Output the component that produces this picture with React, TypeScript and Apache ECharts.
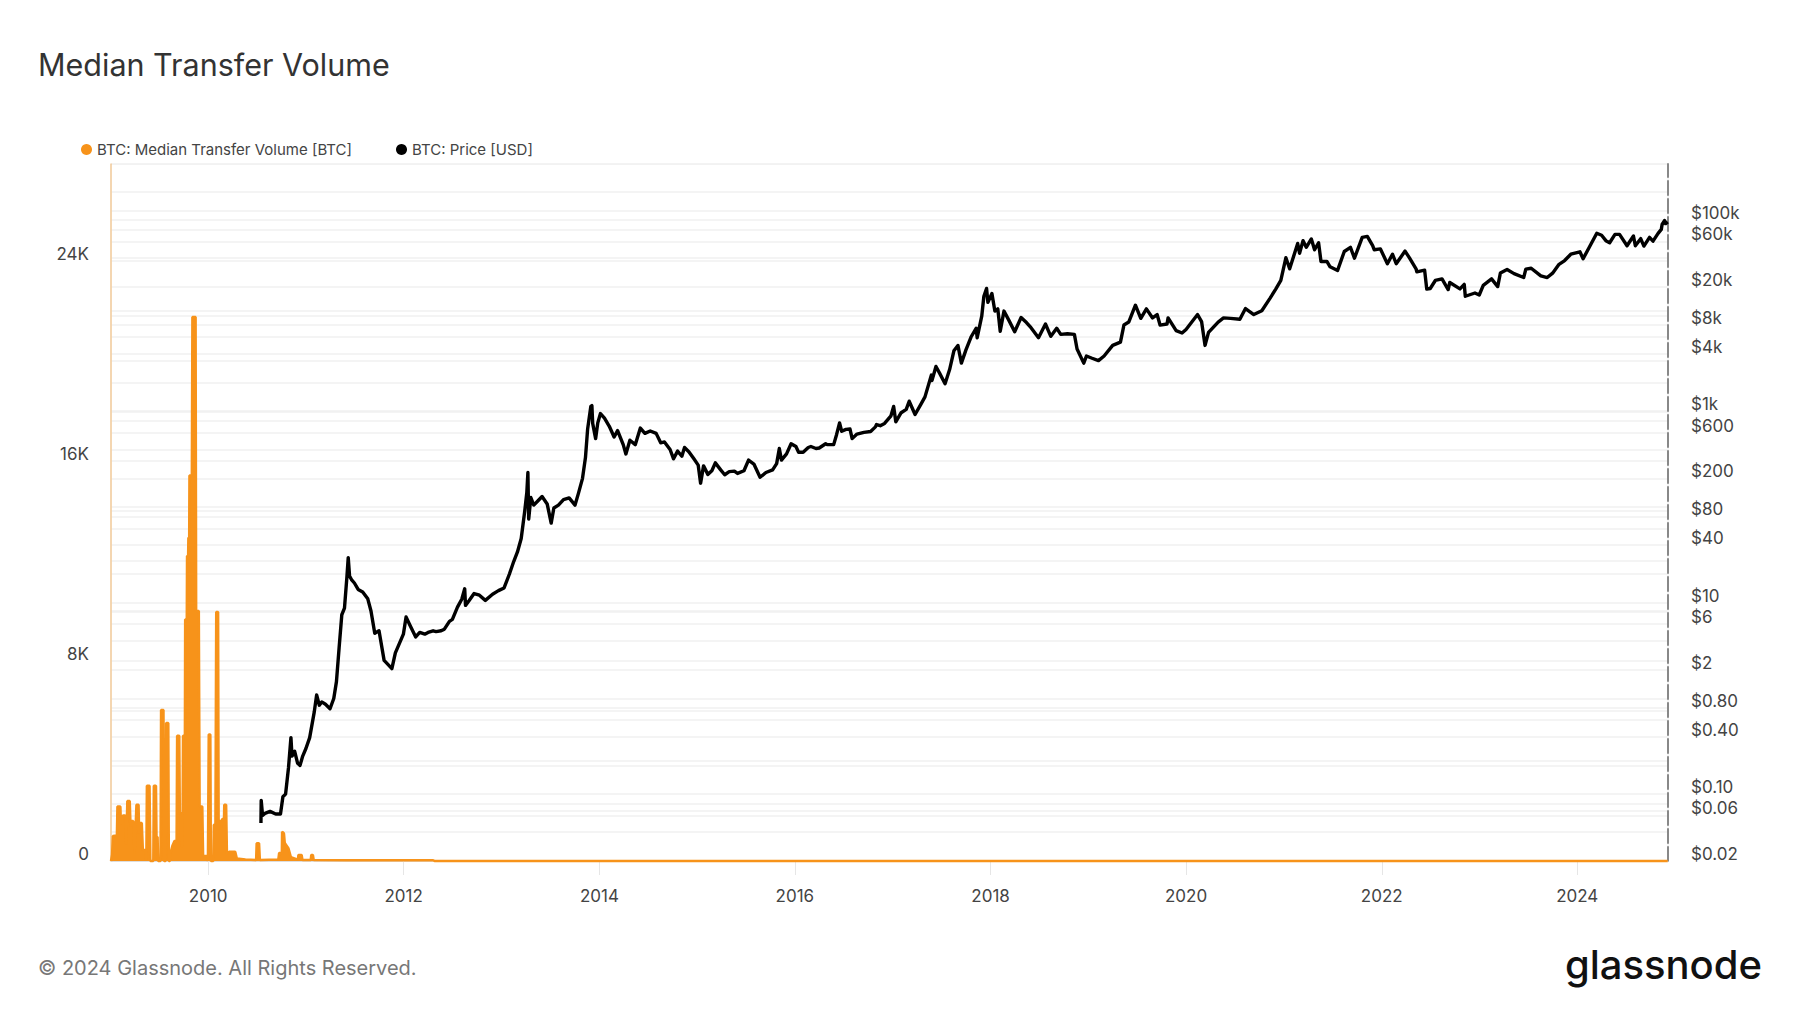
import React, { useEffect, useRef } from 'react';
import * as echarts from 'echarts';

const volumeData: [string, number][] = [
  ['2009-01-03', 0], ['2009-01-07', 250], ['2009-01-10', 1000], ['2009-01-25', 1016],
  ['2009-01-27', 2180], ['2009-02-07', 2180], ['2009-02-09', 1500], ['2009-02-14', 1500],
  ['2009-02-16', 1816], ['2009-02-25', 1816], ['2009-03-01', 650], ['2009-03-05', 2400],
  ['2009-03-14', 2400], ['2009-03-17', 1380], ['2009-03-20', 1600], ['2009-03-27', 1600],
  ['2009-04-01', 300], ['2009-04-08', 2250], ['2009-04-16', 2250], ['2009-04-18', 1100],
  ['2009-04-22', 1520], ['2009-04-28', 1520], ['2009-05-02', 440], ['2009-05-11', 440],
  ['2009-05-15', 0], ['2009-05-17', 3008], ['2009-05-27', 3008], ['2009-05-30', 0],
  ['2009-06-10', 0], ['2009-06-12', 3008], ['2009-06-20', 3008], ['2009-06-22', 960],
  ['2009-06-26', 960], ['2009-06-28', 0], ['2009-07-07', 0], ['2009-07-09', 6040],
  ['2009-07-18', 6040], ['2009-07-20', 0], ['2009-07-26', 0], ['2009-07-28', 5520],
  ['2009-08-05', 5520], ['2009-08-07', 0], ['2009-08-11', 0], ['2009-08-14', 350],
  ['2009-08-20', 600], ['2009-08-28', 800], ['2009-09-05', 800], ['2009-09-07', 5012],
  ['2009-09-15', 5012], ['2009-09-17', 1960], ['2009-09-20', 1960], ['2009-09-23', 600],
  ['2009-09-27', 600], ['2009-09-29', 5012], ['2009-10-06', 5012], ['2009-10-07', 9660],
  ['2009-10-13', 9660], ['2009-10-14', 12200], ['2009-10-18', 12200], ['2009-10-19', 12930],
  ['2009-10-22', 12930], ['2009-10-23', 15424], ['2009-11-01', 15424], ['2009-11-03', 21760],
  ['2009-11-15', 21760], ['2009-11-17', 10000], ['2009-11-27', 10000], ['2009-11-30', 2180],
  ['2009-12-10', 2180], ['2009-12-13', 200], ['2009-12-28', 200], ['2009-12-31', 0],
  ['2010-01-02', 0], ['2010-01-03', 5056], ['2010-01-09', 5056], ['2010-01-11', 0],
  ['2010-01-20', 0], ['2010-01-22', 1450], ['2010-01-28', 1450], ['2010-01-31', 9960],
  ['2010-02-07', 9960], ['2010-02-09', 1600], ['2010-02-18', 1600], ['2010-02-20', 1300],
  ['2010-02-22', 1680], ['2010-03-01', 1680], ['2010-03-02', 2250], ['2010-03-09', 2250],
  ['2010-03-12', 300], ['2010-03-21', 373], ['2010-04-12', 373], ['2010-04-18', 100],
  ['2010-05-20', 60], ['2010-06-29', 40], ['2010-07-01', 707], ['2010-07-10', 707],
  ['2010-07-13', 40], ['2010-09-20', 60], ['2010-09-23', 320], ['2010-10-03', 320],
  ['2010-10-04', 1173], ['2010-10-11', 1100], ['2010-10-14', 720], ['2010-10-28', 500],
  ['2010-11-06', 150], ['2010-12-02', 50], ['2010-12-04', 240], ['2010-12-16', 240],
  ['2010-12-19', 40], ['2011-01-19', 40], ['2011-01-21', 240], ['2011-01-27', 240],
  ['2011-01-30', 40], ['2011-06-01', 35], ['2012-04-20', 30], ['2012-04-25', 3],
  ['2015-01-01', 2], ['2020-01-01', 1], ['2024-12-04', 1],
];

const priceData: [string, number][] = [
  ['2010-07-17', 0.05], ['2010-07-18', 0.086], ['2010-07-23', 0.06], ['2010-08-01', 0.063],
  ['2010-08-20', 0.066], ['2010-09-10', 0.062], ['2010-09-28', 0.062], ['2010-10-07', 0.094],
  ['2010-10-17', 0.10], ['2010-10-28', 0.19], ['2010-11-06', 0.39], ['2010-11-10', 0.25],
  ['2010-11-20', 0.28], ['2010-12-01', 0.21], ['2010-12-10', 0.20], ['2010-12-20', 0.25],
  ['2011-01-01', 0.30], ['2011-01-15', 0.39], ['2011-02-01', 0.72], ['2011-02-10', 1.09],
  ['2011-02-20', 0.85], ['2011-03-01', 0.92], ['2011-03-15', 0.87], ['2011-04-01', 0.78],
  ['2011-04-15', 1.00], ['2011-04-25', 1.50], ['2011-05-05', 3.40], ['2011-05-15', 7.50],
  ['2011-05-25', 8.80], ['2011-06-03', 18.5], ['2011-06-08', 29.6], ['2011-06-13', 19.0],
  ['2011-06-20', 17.5], ['2011-07-01', 16.1], ['2011-07-15', 13.8], ['2011-08-01', 13.0],
  ['2011-08-20', 11.0], ['2011-09-01', 8.2], ['2011-09-15', 4.8], ['2011-10-01', 5.1],
  ['2011-10-20', 2.5], ['2011-11-18', 2.05], ['2011-12-01', 3.0], ['2011-12-31', 4.7],
  ['2012-01-10', 7.1], ['2012-01-25', 5.8], ['2012-02-15', 4.4], ['2012-03-01', 4.9],
  ['2012-03-20', 4.7], ['2012-04-01', 4.9], ['2012-04-20', 5.1], ['2012-05-01', 5.0],
  ['2012-05-20', 5.1], ['2012-06-01', 5.3], ['2012-06-20', 6.4], ['2012-07-01', 6.7],
  ['2012-07-20', 9.0], ['2012-08-05', 10.9], ['2012-08-16', 14.0], ['2012-08-19', 9.4],
  ['2012-09-01', 10.5], ['2012-09-20', 12.5], ['2012-10-10', 12.0], ['2012-11-01', 10.6],
  ['2012-11-28', 12.3], ['2012-12-20', 13.4], ['2013-01-10', 14.3], ['2013-01-30', 20.0],
  ['2013-02-15', 27], ['2013-03-01', 34], ['2013-03-15', 47], ['2013-03-28', 90],
  ['2013-04-05', 142], ['2013-04-09', 230], ['2013-04-12', 75], ['2013-04-20', 126],
  ['2013-05-01', 105], ['2013-05-15', 115], ['2013-06-01', 129], ['2013-06-20', 108],
  ['2013-07-05', 68], ['2013-07-15', 98], ['2013-08-01', 105], ['2013-08-20', 120],
  ['2013-09-10', 125], ['2013-10-02', 105], ['2013-10-15', 140], ['2013-10-30', 200],
  ['2013-11-10', 330], ['2013-11-18', 650], ['2013-11-30', 1130], ['2013-12-04', 1150],
  ['2013-12-07', 750], ['2013-12-18', 520], ['2013-12-26', 760], ['2014-01-05', 950],
  ['2014-01-20', 850], ['2014-02-07', 700], ['2014-02-25', 540], ['2014-03-10', 630],
  ['2014-03-31', 450], ['2014-04-10', 360], ['2014-04-25', 500], ['2014-05-15', 450],
  ['2014-06-03', 670], ['2014-06-20', 590], ['2014-07-10', 625], ['2014-08-01', 590],
  ['2014-08-18', 470], ['2014-09-01', 480], ['2014-09-22', 400], ['2014-10-05', 320],
  ['2014-10-20', 385], ['2014-11-05', 340], ['2014-11-15', 420], ['2014-12-01', 380],
  ['2014-12-20', 320], ['2015-01-05', 275], ['2015-01-14', 178], ['2015-01-25', 270],
  ['2015-02-10', 220], ['2015-02-25', 240], ['2015-03-10', 290], ['2015-03-30', 245],
  ['2015-04-14', 218], ['2015-05-01', 235], ['2015-05-20', 238], ['2015-06-01', 225],
  ['2015-06-25', 240], ['2015-07-12', 310], ['2015-08-01', 282], ['2015-08-24', 205],
  ['2015-09-15', 230], ['2015-10-10', 245], ['2015-10-25', 285], ['2015-11-04', 410],
  ['2015-11-12', 310], ['2015-12-01', 360], ['2015-12-18', 460], ['2016-01-05', 430],
  ['2016-01-15', 375], ['2016-02-01', 375], ['2016-02-20', 420], ['2016-03-01', 430],
  ['2016-03-20', 410], ['2016-04-01', 415], ['2016-04-25', 460], ['2016-05-01', 450],
  ['2016-05-25', 450], ['2016-06-05', 575], ['2016-06-16', 760], ['2016-06-24', 620],
  ['2016-07-10', 650], ['2016-07-25', 655], ['2016-08-02', 520], ['2016-08-20', 580],
  ['2016-09-15', 605], ['2016-10-10', 617], ['2016-10-28', 690], ['2016-11-01', 730],
  ['2016-11-15', 710], ['2016-12-01', 750], ['2016-12-25', 900], ['2017-01-04', 1130],
  ['2017-01-12', 780], ['2017-02-01', 970], ['2017-02-20', 1050], ['2017-03-03', 1280],
  ['2017-03-25', 930], ['2017-04-15', 1180], ['2017-05-01', 1420], ['2017-05-25', 2400],
  ['2017-05-27', 2100], ['2017-06-11', 2950], ['2017-06-25', 2500], ['2017-07-15', 1950],
  ['2017-08-01', 2740], ['2017-08-17', 4300], ['2017-09-01', 4900], ['2017-09-14', 3200],
  ['2017-10-01', 4400], ['2017-10-20', 6000], ['2017-11-08', 7400], ['2017-11-12', 5900],
  ['2017-11-29', 9900], ['2017-12-07', 16000], ['2017-12-17', 19300], ['2017-12-22', 13800],
  ['2018-01-06', 17100], ['2018-01-17', 11200], ['2018-01-28', 11800], ['2018-02-06', 6900],
  ['2018-02-20', 11200], ['2018-03-10', 9000], ['2018-04-01', 6800], ['2018-04-25', 9600],
  ['2018-05-15', 8500], ['2018-06-01', 7500], ['2018-06-29', 5900], ['2018-07-25', 8200],
  ['2018-08-14', 6100], ['2018-09-05', 7400], ['2018-09-20', 6400], ['2018-10-15', 6500],
  ['2018-11-10', 6400], ['2018-11-20', 4500], ['2018-12-15', 3200], ['2018-12-25', 3800],
  ['2019-01-15', 3600], ['2019-02-08', 3400], ['2019-03-01', 3800], ['2019-04-02', 4900],
  ['2019-05-01', 5300], ['2019-05-14', 8000], ['2019-06-01', 8600], ['2019-06-26', 12900],
  ['2019-07-16', 9400], ['2019-08-06', 11800], ['2019-08-29', 9500], ['2019-09-15', 10300],
  ['2019-09-26', 8000], ['2019-10-22', 8200], ['2019-10-26', 9500], ['2019-11-25', 7000],
  ['2019-12-17', 6600], ['2020-01-01', 7200], ['2020-02-13', 10300], ['2020-02-28', 8700],
  ['2020-03-12', 4900], ['2020-03-25', 6700], ['2020-04-30', 8600], ['2020-05-20', 9500],
  ['2020-06-15', 9400], ['2020-07-20', 9200], ['2020-08-10', 11900], ['2020-09-10', 10300],
  ['2020-10-10', 11300], ['2020-11-10', 15300], ['2020-12-01', 19000], ['2020-12-20', 23500],
  ['2021-01-08', 40500], ['2021-01-22', 31000], ['2021-02-21', 57000], ['2021-02-28', 45000],
  ['2021-03-13', 61000], ['2021-03-25', 52000], ['2021-04-13', 63500], ['2021-04-25', 49000],
  ['2021-05-10', 58000], ['2021-05-19', 37000], ['2021-06-10', 37000], ['2021-06-22', 32500],
  ['2021-07-20', 29800], ['2021-08-14', 47000], ['2021-09-06', 52000], ['2021-09-21', 40000],
  ['2021-10-20', 66000], ['2021-11-08', 67500], ['2021-11-28', 54000], ['2021-12-04', 49000],
  ['2021-12-27', 50000], ['2022-01-22', 35000], ['2022-02-10', 44000], ['2022-02-24', 35000],
  ['2022-03-29', 47500], ['2022-04-15', 40000], ['2022-05-09', 31000], ['2022-05-12', 28800],
  ['2022-06-10', 30000], ['2022-06-18', 19000], ['2022-07-01', 19300], ['2022-07-20', 23400],
  ['2022-08-14', 24300], ['2022-09-06', 18800], ['2022-09-12', 22300], ['2022-10-20', 19100],
  ['2022-11-05', 21300], ['2022-11-09', 16000], ['2022-12-15', 17300], ['2022-12-31', 16500],
  ['2023-01-15', 20800], ['2023-02-15', 24300], ['2023-03-10', 20200], ['2023-03-20', 28000],
  ['2023-04-14', 30500], ['2023-05-10', 27600], ['2023-06-15', 25100], ['2023-06-23', 30700],
  ['2023-07-13', 31400], ['2023-08-18', 26100], ['2023-09-11', 25100], ['2023-10-01', 27900],
  ['2023-10-25', 34500], ['2023-11-15', 37800], ['2023-12-08', 44000], ['2024-01-11', 46600],
  ['2024-01-23', 39500], ['2024-02-15', 52000], ['2024-03-14', 73000], ['2024-04-01', 69500],
  ['2024-04-17', 61000], ['2024-05-01', 58000], ['2024-05-21', 71000], ['2024-06-07', 71000],
  ['2024-07-05', 54000], ['2024-07-29', 68200], ['2024-08-05', 54000], ['2024-08-25', 64000],
  ['2024-09-06', 53500], ['2024-09-27', 66000], ['2024-10-10', 60300], ['2024-10-29', 72700],
  ['2024-11-10', 80000], ['2024-11-13', 90000], ['2024-11-22', 99000], ['2024-11-26', 92000],
  ['2024-12-04', 96000],
];

const yearTicks = [2010, 2012, 2014, 2016, 2018, 2020, 2022, 2024];
const volumeLabelValues = [0, 8000, 16000, 24000];
const volumeGridValues = [0, 2000, 4000, 6000, 8000, 10000, 12000, 14000, 16000, 18000, 20000, 22000, 24000, 26000];
const priceLabelValues = [0.02, 0.06, 0.1, 0.4, 0.8, 2, 6, 10, 40, 80, 200, 600, 1000, 4000, 8000, 20000, 60000, 100000];
const priceGridValues = [
  0.02, 0.04, 0.06, 0.08, 0.1, 0.2, 0.4, 0.6, 0.8, 1, 2, 4, 6, 8, 10, 20, 40, 60, 80, 100,
  200, 400, 600, 800, 1000, 2000, 4000, 6000, 8000, 10000, 20000, 40000, 60000, 80000, 100000, 200000,
];
const xStart = '2009-01-03';
const xEnd = '2024-12-05';
const volumeMax = 27880;
const priceMin = 0.02;
const priceMax = 386000;

const ORANGE = '#f7931a';
const FONT = 'Inter, "Noto Sans", sans-serif';

function fmtPrice(p: number): string {
  if (p >= 1000) return '$' + Math.round(p / 1000) + 'k';
  if (p >= 1) return '$' + Math.round(p);
  return '$' + p.toFixed(2);
}

const ts = (d: string) => Date.parse(d + 'T00:00:00Z');

export default function App() {
  const ref = useRef<HTMLDivElement>(null);
  useEffect(() => {
    if (!ref.current) return;
    const chart = echarts.init(ref.current, undefined, { renderer: 'svg' });
    const lg = (v: number) => Math.log10(v);
    const yearTs = yearTicks.map((y) => Date.UTC(y, 0, 1));
    chart.setOption({
      animation: false,
      backgroundColor: '#ffffff',
      textStyle: { fontFamily: FONT },
      title: {
        text: 'Median Transfer Volume',
        left: 33,
        top: 44,
        textStyle: { fontSize: 30.5, fontWeight: 400, color: '#333333', fontFamily: FONT },
      },
      legend: {
        left: 76,
        top: 137,
        icon: 'circle',
        itemWidth: 11,
        itemHeight: 11,
        itemGap: 44,
        textStyle: { fontSize: 15, color: '#444444', fontFamily: FONT },
        data: ['BTC: Median Transfer Volume [BTC]', 'BTC: Price [USD]'],
      },
      grid: {
        left: 111,
        right: 132,
        top: 164,
        bottom: 152,
        show: true,
        borderColor: '#e6e6e6',
        borderWidth: 1,
      },
      xAxis: {
        type: 'value',
        min: ts(xStart),
        max: ts(xEnd),
        axisLine: { show: true, lineStyle: { color: '#dddddd', width: 1 } },
        axisTick: {
          show: true,
          length: 14,
          lineStyle: { color: '#e6e6e6', width: 1 },
          customValues: yearTs,
        },
        axisLabel: {
          customValues: yearTs,
          formatter: (v: number) => String(new Date(v).getUTCFullYear()),
          fontSize: 17,
          color: '#444444',
          margin: 26,
          fontFamily: FONT,
        },
        splitLine: { show: false },
      },
      yAxis: [
        {
          type: 'value',
          position: 'left',
          min: 0,
          max: volumeMax,
          axisLine: { show: true, lineStyle: { color: 'rgba(247,147,26,0.4)', width: 1.5 } },
          axisTick: { show: false, customValues: volumeGridValues },
          axisLabel: {
            customValues: volumeLabelValues,
            formatter: (v: number) => (v === 0 ? '0' : v / 1000 + 'K'),
            fontSize: 17,
            color: '#444444',
            margin: 22,
            verticalAlign: 'bottom',
            lineHeight: 14,
            fontFamily: FONT,
          },
          splitLine: { show: true, lineStyle: { color: '#f0f0f0', width: 1.5 } },
        },
        {
          type: 'value',
          position: 'right',
          min: lg(priceMin),
          max: lg(priceMax),
          axisLine: { show: true, lineStyle: { color: '#888888', width: 2, type: [14, 4] } },
          axisTick: { show: false, customValues: priceGridValues.map(lg) },
          axisLabel: {
            customValues: priceLabelValues.map(lg),
            formatter: (v: number) => fmtPrice(Math.pow(10, v)),
            fontSize: 17,
            color: '#444444',
            margin: 23,
            verticalAlign: 'bottom',
            lineHeight: 14,
            fontFamily: FONT,
          },
          splitLine: { show: true, lineStyle: { color: '#f0f0f0', width: 1.5 } },
        },
      ],
      series: [
        {
          name: 'BTC: Median Transfer Volume [BTC]',
          type: 'line',
          xAxisIndex: 0,
          yAxisIndex: 0,
          data: volumeData.map(([d, v]) => [ts(d), v]),
          symbol: 'none',
          showSymbol: false,
          clip: false,
          lineStyle: { color: ORANGE, width: 2.5 },
          itemStyle: { color: ORANGE },
          areaStyle: { color: ORANGE, opacity: 1 },
          z: 2,
        },
        {
          name: 'BTC: Price [USD]',
          type: 'line',
          xAxisIndex: 0,
          yAxisIndex: 1,
          data: priceData.map(([d, p]) => [ts(d), lg(p)]),
          symbol: 'none',
          showSymbol: false,
          lineStyle: { color: '#000000', width: 3.4, join: 'round' },
          itemStyle: { color: '#000000' },
          z: 3,
        },
      ],
      graphic: [
        {
          type: 'text',
          left: 38,
          top: 958,
          style: {
            text: '© 2024 Glassnode. All Rights Reserved.',
            fontSize: 20,
            fill: '#777777',
            fontFamily: FONT,
          },
        },
        {
          type: 'text',
          right: 38,
          top: 944,
          style: {
            text: 'glassnode',
            fontSize: 40,
            fontWeight: 500,
            fill: '#111111',
            fontFamily: FONT,
          },
        },
      ],
    });
    return () => chart.dispose();
  }, []);
  return (
    <div
      ref={ref}
      style={{ position: 'absolute', left: 0, top: 0, width: 1800, height: 1013, background: '#fff' }}
    />
  );
}
